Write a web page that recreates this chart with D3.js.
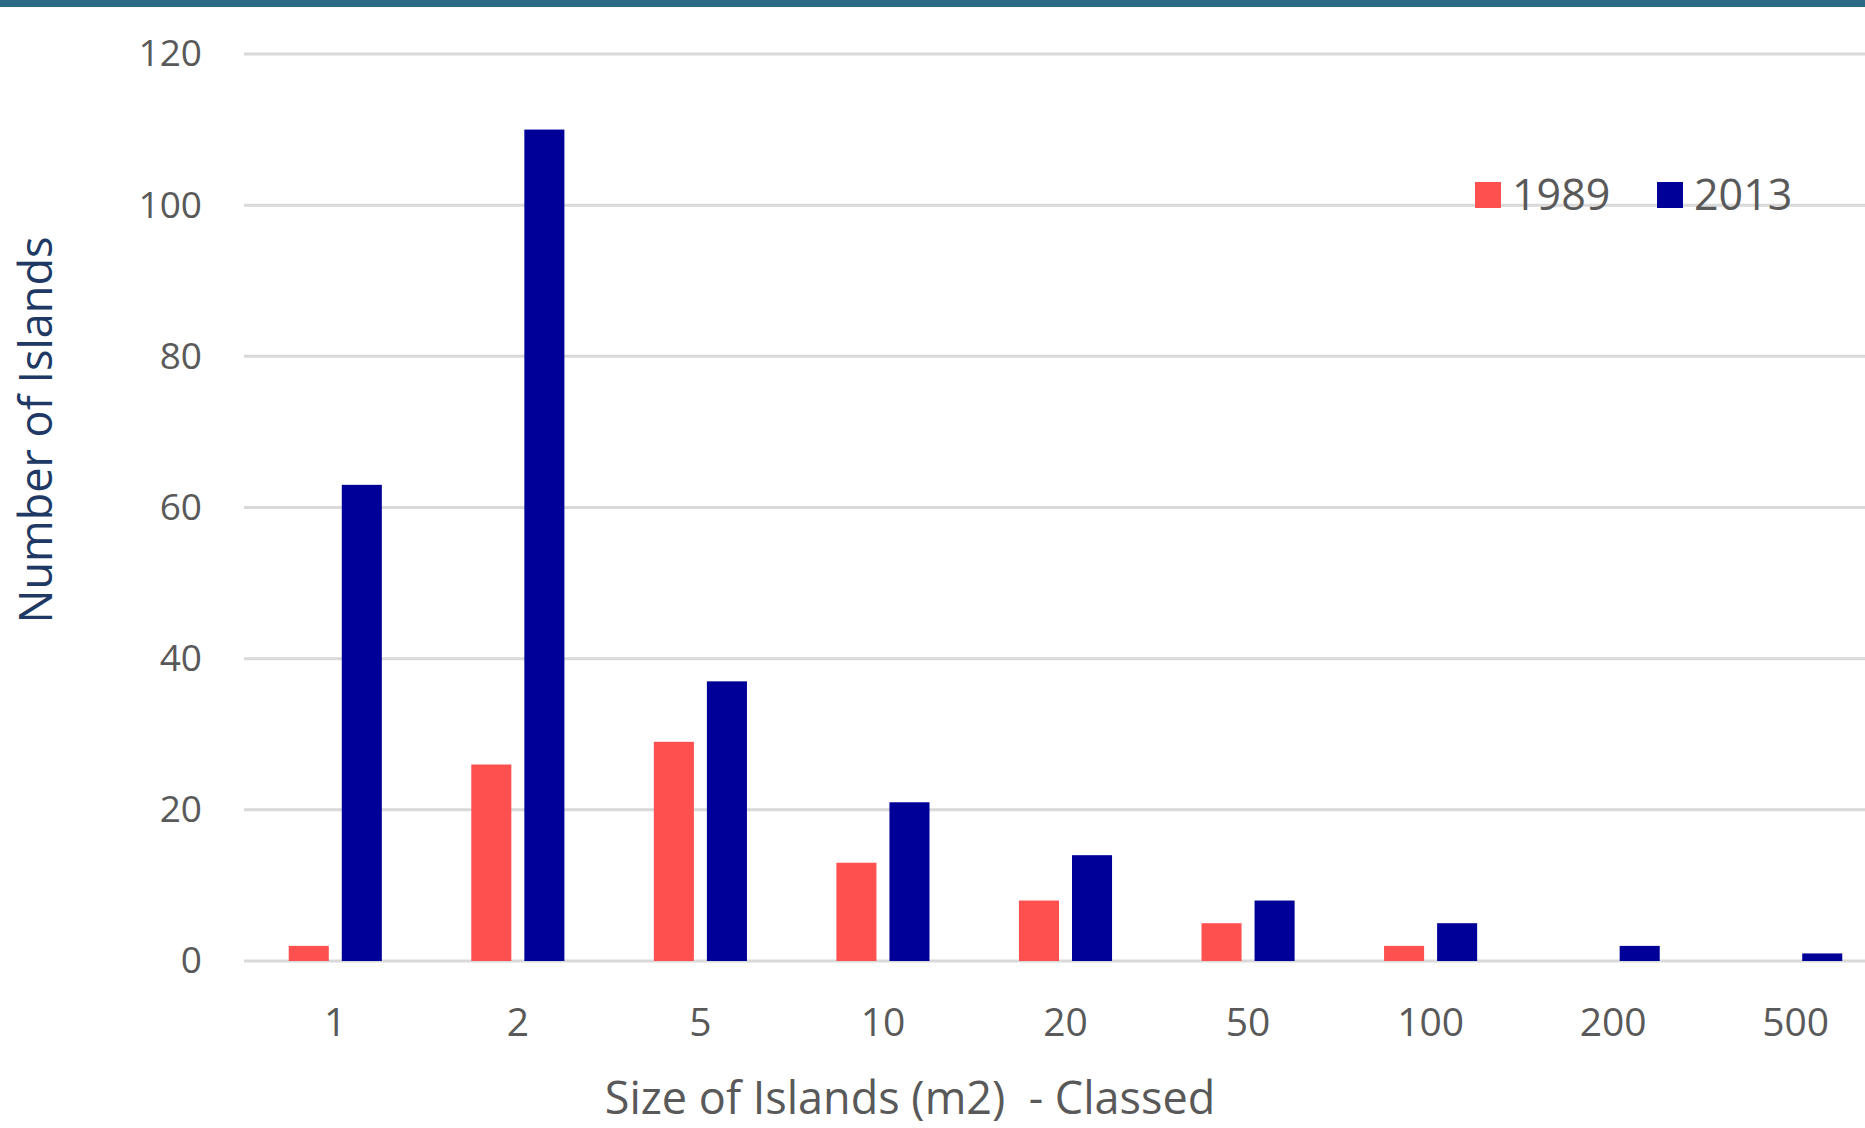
<!DOCTYPE html>
<html>
<head>
<meta charset="utf-8">
<title>Size of Islands</title>
<style>
  body { margin: 0; background: #fff; }
  svg { display: block; font-family: "Open Sans", "Noto Sans", sans-serif; }
</style>
</head>
<body>
<svg width="1865" height="1128"></svg>
<script src="https://d3js.org/d3.v7.min.js"></script>
<script>

var sizeClasses = ["1", "2", "5", "10", "20", "50", "100", "200", "500"];
var seriesNames = ["1989", "2013"];
var islands1989 = [2, 26, 29, 13, 8, 5, 2, 0, 0];
var islands2013 = [63, 110, 37, 21, 14, 8, 5, 2, 1];
var yTicks = [0, 20, 40, 60, 80, 100, 120];
var colors = ["#ff5050", "#000099"];

var data = sizeClasses.map(function (c, i) {
    return { cls: c, "1989": islands1989[i], "2013": islands2013[i] };
});

var svg = d3.select("svg"),
    W = +svg.attr("width"),
    margin = { top: 54, left: 244, bottom: 167 },
    plotBottom = 1128 - margin.bottom;

// band runs past the right edge like the original (cropped)
var x0 = d3.scaleBand().domain(sizeClasses).range([margin.left, 1887]).paddingInner(0.49).paddingOuter(0.245);
var x1 = d3.scaleBand().domain(seriesNames).range([0, x0.bandwidth()]).paddingInner(0.245);
var y = d3.scaleLinear().domain([0, 120]).range([plotBottom, margin.top]);
var z = d3.scaleOrdinal().domain(seriesNames).range(colors);

// top band
svg.append("rect").attr("x", 0).attr("y", 0).attr("width", W).attr("height", 7).attr("fill", "#2c6985");

// gridlines
svg.append("g").selectAll("line")
    .data(yTicks)
    .enter().append("line")
    .attr("x1", margin.left).attr("x2", W)
    .attr("y1", function (d) { return y(d); })
    .attr("y2", function (d) { return y(d); })
    .attr("stroke", "#d9d9d9")
    .attr("stroke-width", 3);

// bars
var groups = svg.append("g").selectAll("g")
    .data(data)
    .enter().append("g")
    .attr("transform", function (d) { return "translate(" + x0(d.cls) + ",0)"; });

groups.selectAll("rect")
    .data(function (d) { return seriesNames.map(function (k) { return { key: k, value: d[k] }; }); })
    .enter().append("rect")
    .filter(function (d) { return d.value > 0; })
    .attr("x", function (d) { return x1(d.key); })
    .attr("width", x1.bandwidth())
    .attr("y", function (d) { return y(d.value); })
    .attr("height", function (d) { return y(0) - y(d.value); })
    .attr("fill", function (d) { return z(d.key); });

// axes (d3 puts sans-serif on the group, drop it so the page font is used)
var yAxis = svg.append("g")
    .attr("transform", "translate(" + margin.left + ",0)")
    .call(d3.axisLeft(y).tickValues(yTicks).tickSize(0).tickPadding(42))
    .attr("font-family", null);
yAxis.select(".domain").remove();
yAxis.selectAll("text").attr("fill", "#595959").style("font-size", "37px");

var xAxis = svg.append("g")
    .attr("transform", "translate(0," + plotBottom + ")")
    .call(d3.axisBottom(x0).tickSize(0).tickPadding(47))
    .attr("font-family", null);
xAxis.select(".domain").remove();
xAxis.selectAll("text").attr("fill", "#595959").style("font-size", "39px");

// axis titles
svg.append("text")
    .attr("transform", "translate(52,430) rotate(-90)")
    .attr("text-anchor", "middle")
    .attr("fill", "#203864")
    .style("font-size", "45px")
    .text("Number of Islands");

svg.append("text")
    .attr("x", 910).attr("y", 1114)
    .attr("text-anchor", "middle")
    .attr("fill", "#595959")
    .style("font-size", "45px")
    .style("white-space", "pre")
    .text("Size of Islands (m2)  - Classed");

// legend
var legend = svg.append("g").selectAll("g")
    .data(seriesNames)
    .enter().append("g")
    .attr("transform", function (d, i) { return "translate(" + [1475, 1657][i] + ",182)"; });

legend.append("rect")
    .attr("width", 26).attr("height", 26)
    .attr("fill", function (d) { return z(d); });

legend.append("text")
    .attr("x", 37).attr("y", 13).attr("dy", "0.36em")
    .attr("fill", "#595959")
    .style("font-size", "43px")
    .text(function (d) { return d; });

</script>
</body>
</html>
